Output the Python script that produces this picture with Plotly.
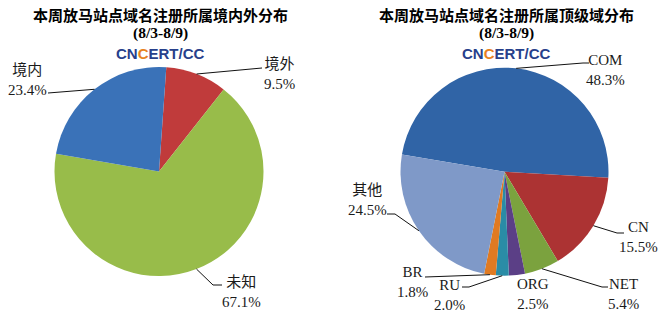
import math
import plotly.graph_objects as go

W, H = 664, 316

# ---------------- data ----------------
left_labels = ["境外", "未知", "境内"]
left_values = [9.5, 67.1, 23.4]
left_colors = ["#C03B3B", "#98BC4A", "#3A72B8"]

right_labels = ["COM", "CN", "NET", "ORG", "RU", "BR", "其他"]
right_values = [48.3, 15.5, 5.4, 2.5, 2.0, 1.8, 24.5]
right_colors = ["#3064A6", "#AC3333", "#7BA23E", "#5B3F86", "#2A8CA6", "#E07A22", "#7F99C8"]

left_title = "本周放马站点域名注册所属境内外分布"
right_title = "本周放马站点域名注册所属顶级域分布"
period = "(8/3-8/9)"

# ---------------- layout helpers (pixels) ----------------
L = dict(cx=159, cy=171.5, r=104.5, rot=4)
R = dict(cx=504.5, cy=171.7, r=104, rot=279.5)

# label centre and leader path (after the edge point) per slice
left_place = {
    "境外": dict(txt=(279, 73), path=[(262, 68)]),
    "未知": dict(txt=(241, 292), path=[(213, 285), (222, 285)]),
    "境内": dict(txt=(27, 79), path=[(48, 93)]),
}
right_place = {
    "COM": dict(txt=(605, 70), path=[(583, 63), (589, 63)]),
    "CN": dict(txt=(638, 237), path=[(617, 233), (624, 233)]),
    "NET": dict(txt=(623, 294), path=[(602, 287), (608, 287)]),
    "ORG": dict(txt=(533, 294), path=None),
    "RU": dict(txt=(449, 295), path=[(469, 287), (462, 287)]),
    "BR": dict(txt=(412, 282), path=[(425, 277)]),
    "其他": dict(txt=(367, 200), path=[(395, 214), (387, 214)]),
}


def px(x, y):
    return x / W, 1 - y / H


def domain(g):
    x0, y0 = px(g["cx"] - g["r"], g["cy"] + g["r"])
    x1, y1 = px(g["cx"] + g["r"], g["cy"] - g["r"])
    return dict(x=[x0, x1], y=[y0, y1])


fig = go.Figure()
for labels, values, colors, g in [
    (left_labels, left_values, left_colors, L),
    (right_labels, right_values, right_colors, R),
]:
    fig.add_trace(go.Pie(
        labels=labels, values=values, sort=False, direction="clockwise",
        rotation=g["rot"], marker=dict(colors=colors, line=dict(width=0)),
        textinfo="none", hoverinfo="label+percent", domain=domain(g),
        showlegend=False,
    ))

annotations = []
shapes = []
font_lbl = dict(family="Liberation Serif, Noto Sans CJK SC", size=15, color="#1a1a1a")


def add_labels(labels, values, g, place):
    total = sum(values)
    cum = 0
    for lab, v in zip(labels, values):
        mid = g["rot"] + (cum + v / 2) / total * 360
        cum += v
        a = math.radians(mid)
        ex = g["cx"] + g["r"] * math.sin(a)
        ey = g["cy"] - g["r"] * math.cos(a)
        p = place[lab]
        tx, ty = p["txt"]
        pct = v / total * 100
        X, Y = px(tx, ty)
        annotations.append(dict(
            text=f"{lab}<br>{pct:.1f}%", x=X, y=Y, xref="paper", yref="paper",
            xanchor="center", yanchor="middle", showarrow=False, font=font_lbl,
            align="center",
        ))
        if p["path"]:
            pts = [(ex, ey)] + p["path"]
            for (x0, y0), (x1, y1) in zip(pts[:-1], pts[1:]):
                a0, b0 = px(x0, y0)
                a1, b1 = px(x1, y1)
                shapes.append(dict(type="line", xref="paper", yref="paper",
                                   x0=a0, y0=b0, x1=a1, y1=b1,
                                   line=dict(color="#111111", width=1)))


add_labels(left_labels, left_values, L, left_place)
add_labels(right_labels, right_values, R, right_place)

title_font = dict(family="Noto Sans CJK SC", size=15, color="#000000")
period_font = dict(family="Liberation Serif", size=15.5, color="#000000")
logo_font = dict(family="Liberation Sans, Arial", size=15, color="#27408B")
logo = "<b>CN<span style='color:#E8821E'>C</span>ERT/CC</b>"

for cx, title in [(160, left_title), (506, right_title)]:
    x, y = px(cx, 14)
    annotations.append(dict(text=f"<b>{title}</b>", x=x, y=y, xref="paper", yref="paper",
                            xanchor="center", yanchor="middle", showarrow=False, font=title_font))
    x, y = px(cx, 33)
    annotations.append(dict(text=f"<b>{period}</b>", x=x, y=y, xref="paper", yref="paper",
                            xanchor="center", yanchor="middle", showarrow=False, font=period_font))
    x, y = px(cx, 53)
    annotations.append(dict(text=logo, x=x, y=y, xref="paper", yref="paper",
                            xanchor="center", yanchor="middle", showarrow=False, font=logo_font))

fig.update_layout(
    width=W, height=H, margin=dict(l=0, r=0, t=0, b=0),
    paper_bgcolor="white", plot_bgcolor="white",
    annotations=annotations, shapes=shapes,
)

fig.write_html("out.html", config={"displayModeBar": False})
